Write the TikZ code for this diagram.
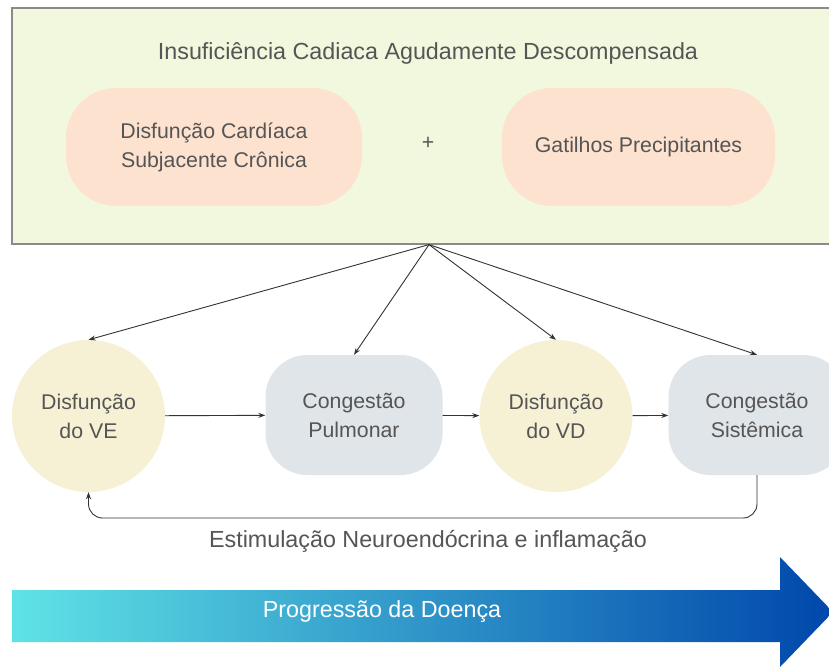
\documentclass[tikz,border=0pt]{standalone}
\usepackage{fontspec}
\setmainfont{Liberation Sans}
\usepackage{xcolor}
\usepackage{tikz}
\usetikzlibrary{positioning, arrows.meta, shapes, calc}

\definecolor{boxgreen}{HTML}{F2F8DE}
\definecolor{boxedge}{HTML}{8A8A8A}
\definecolor{peach}{HTML}{FDE2CF}
\definecolor{cream}{HTML}{F6F1D4}
\definecolor{slate}{HTML}{E0E5EA}
\definecolor{textgray}{HTML}{555555}
\definecolor{linegray}{HTML}{333333}
\definecolor{progcyan}{HTML}{5FE3E6}
\definecolor{progblue}{HTML}{0047AB}

\begin{document}
\begin{tikzpicture}[x=1pt, y=-1pt,
    txt/.style={text=textgray, font=\fontsize{21.3}{29}\selectfont, align=center},
    bigtxt/.style={txt, font=\fontsize{23.3}{29}\selectfont},
    outerbox/.style={draw=boxedge, line width=1.2pt, fill=boxgreen, minimum width=834pt, minimum height=236pt},
    pill/.style={txt, fill=peach, rounded corners=50pt, minimum height=118pt},
    stage/.style={txt, ellipse, fill=cream, minimum width=153pt, minimum height=152pt, inner sep=0pt},
    congest/.style={txt, fill=slate, rounded corners=42pt, minimum width=177pt, minimum height=120pt},
    arr/.style={draw=linegray, line width=0.9pt, -{Stealth[length=7pt, width=5pt]}}
]
    % canvas
    \clip (0,0) rectangle (829,666);
    \fill[white] (0,0) rectangle (829,666);

    % Top box
    \node[outerbox] (adhf) at (429,126) {};
    \node[bigtxt] (title) at (428,53) {Insuficiência Cadiaca Agudamente Descompensada};
    \node[pill, minimum width=296pt] (chronic) at (214,147) {Disfunção Cardíaca\\Subjacente Crônica};
    \node[txt] (plus) at (428,143) {+};
    \node[pill, minimum width=273pt] (triggers) at (638.5,147) {Gatilhos Precipitantes};

    % Stages
    \node[stage] (lv) at (88.5,416) {Disfunção\\do VE};
    \node[congest] (pulm) at (354,415) {Congestão\\Pulmonar};
    \node[stage] (rv) at (556,416) {Disfunção\\do VD};
    \node[congest] (syst) at (757,415) {Congestão\\Sistêmica};

    % From the box
    \draw[arr] (adhf.south) -- (lv.north);
    \draw[arr] (adhf.south) -- (pulm.north);
    \draw[arr] (adhf.south) -- (rv.north);
    \draw[arr] (adhf.south) -- (syst.north);

    % Chain
    \draw[arr] (lv) -- (pulm);
    \draw[arr] (pulm) -- (rv);
    \draw[arr] (rv) -- (syst);

    % Feedback loop
    \coordinate (loop) at (88.5,518);
    \draw[arr, rounded corners=14pt] (syst.south) |- (loop) -- (lv.south);
    \node[bigtxt] (neuro) at (428,541) {Estimulação Neuroendócrina e inflamação};

    % Progression arrow
    \shade[left color=progcyan, right color=progblue]
        (12,590) -- (780,590) -- (780,557) -- (833,612) -- (780,667) -- (780,642) -- (12,642) -- cycle;
    \node[bigtxt, text=white] (prog) at (382,612) {Progressão da Doença};

\end{tikzpicture}
\end{document}
